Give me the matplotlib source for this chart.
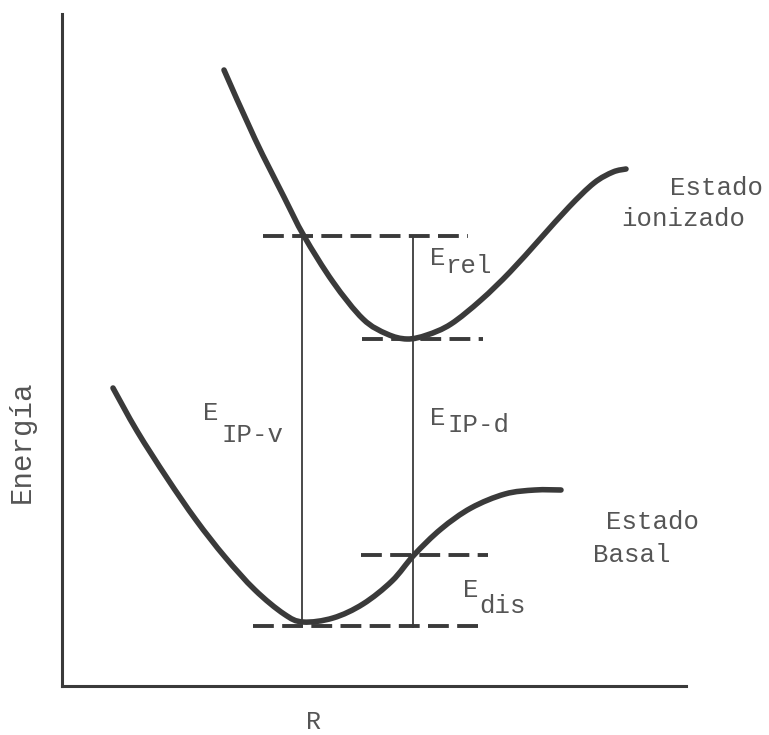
import matplotlib
matplotlib.use("Agg")
import matplotlib.pyplot as plt
from matplotlib.path import Path
from matplotlib.patches import PathPatch

plt.rcParams['font.family'] = ['Liberation Mono', 'DejaVu Sans Mono']
plt.rcParams['lines.scale_dashes'] = False

# Arbitrary units (R across 0..624, energy up 0..672)
ion_R = [162, 193, 222, 242, 271, 301, 325, 345, 365, 389, 419, 448, 478, 507, 532, 551, 564]
ion_E = [616, 547, 489, 450, 404, 367, 352, 347, 351, 362, 386, 414, 447, 479, 503, 514, 517]

bas_R = [51, 75, 105, 134, 163, 193, 222, 241, 271, 301, 330, 352, 379, 409, 443, 473, 499]
bas_E = [298, 255, 208, 166, 129, 96, 72, 64, 68, 82, 105, 131, 157, 178, 192, 196, 196]

# dashed reference levels: (energy, R start, R end)
lvl_E = [450, 347, 131, 60]
lvl_R0 = [201, 300, 299, 191]
lvl_R1 = [406, 421, 426, 416]

# vertical transitions: (R, E bottom, E top)
vt_R = [240, 351]
vt_E0 = [64, 59]
vt_E1 = [450, 448]

ink = '#3a3a3a'
txt = '#555555'


def smooth_path(xs, ys):
    """Cubic Bezier path passing through the read points (Catmull-Rom handles)."""
    pts = list(zip(xs, ys))
    verts = [pts[0]]
    codes = [Path.MOVETO]
    n = len(pts)
    for i in range(n - 1):
        p0 = pts[i - 1] if i > 0 else pts[i]
        p1 = pts[i]
        p2 = pts[i + 1]
        p3 = pts[i + 2] if i + 2 < n else pts[i + 1]
        c1 = (p1[0] + (p2[0] - p0[0]) / 6.0, p1[1] + (p2[1] - p0[1]) / 6.0)
        c2 = (p2[0] - (p3[0] - p1[0]) / 6.0, p2[1] - (p3[1] - p1[1]) / 6.0)
        verts += [c1, c2, p2]
        codes += [Path.CURVE4] * 3
    return Path(verts, codes)


fig = plt.figure(figsize=(7.69, 7.35), dpi=100)
ax = fig.add_axes([62/769, 49/735, 624/769, 672/735])
ax.set_xlim(0, 624)
ax.set_ylim(0, 672)
for s in ['top', 'right']:
    ax.spines[s].set_visible(False)
for s in ['left', 'bottom']:
    ax.spines[s].set_color(ink)
    ax.spines[s].set_linewidth(2.2)
ax.set_xticks([])
ax.set_yticks([])

for xs, ys in [(ion_R, ion_E), (bas_R, bas_E)]:
    ax.add_patch(PathPatch(smooth_path(xs, ys), facecolor='none', edgecolor=ink,
                           lw=4.0, capstyle='round', joinstyle='round'))

for e, r0, r1 in zip(lvl_E, lvl_R0, lvl_R1):
    ax.plot([r0, r1], [e, e], color=ink, lw=2.8, linestyle=(0, (15, 6)), dash_capstyle='butt')

for r, e0, e1 in zip(vt_R, vt_E0, vt_E1):
    ax.plot([r, r], [e0, e1], color=ink, lw=1.3)

fs = 18.5
def lab(x, y, s, **kw):
    ax.text(x, y, s, fontsize=fs, color=txt, ha='left', va='baseline', clip_on=False, **kw)

lab(368, 421, 'E'); lab(384, 413, 'rel')
lab(141, 266, 'E'); lab(159, 244, 'IP-v')
lab(368, 261, 'E'); lab(385, 254, 'IP-d')
lab(401, 89, 'E'); lab(417, 73, 'dis')
lab(608, 491, 'Estado'); lab(559, 460, 'ionizado')
lab(544, 157, 'Estado'); lab(531, 124, 'Basal')

ax.text(-40, 244, 'Energía', fontsize=21, color=txt, rotation=90,
        ha='center', va='center', clip_on=False)
ax.text(251, -36, 'R', fontsize=18, color=txt, ha='center', va='center', clip_on=False)

fig.savefig('out.png', dpi=100, facecolor='white')
